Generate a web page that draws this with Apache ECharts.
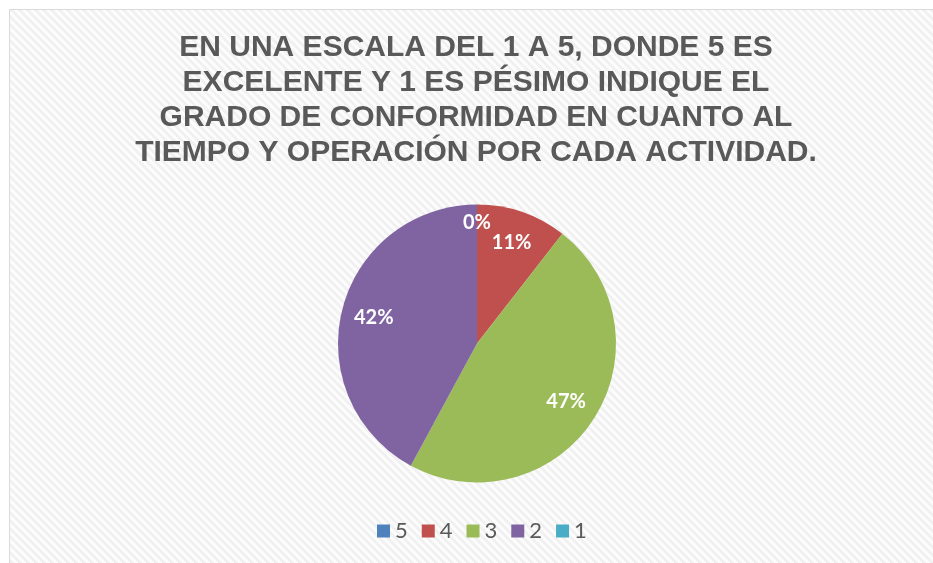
<!DOCTYPE html>
<html>
<head>
<meta charset="utf-8">
<script src="https://cdn.jsdelivr.net/npm/echarts@6/dist/echarts.min.js"></script>
<style>html,body{margin:0;padding:0;background:#fff}#c{width:933px;height:563px}</style>
</head>
<body>
<div id="c"></div>
<script>
var titleText = 'EN UNA ESCALA DEL 1 A 5, DONDE 5 ES\nEXCELENTE Y 1 ES PÉSIMO INDIQUE EL\nGRADO DE CONFORMIDAD EN CUANTO AL\nTIEMPO Y OPERACIÓN POR CADA ACTIVIDAD.';
var categories = ['5', '4', '3', '2', '1'];
var counts = [0, 2, 9, 8, 0];
var colors = ['#4f81bd', '#c0504d', '#9bbb59', '#8064a2', '#4bacc6'];

// hatched background pattern
var pc = document.createElement('canvas');
pc.width = 8; pc.height = 8;
var pctx = pc.getContext('2d');
var img = pctx.createImageData(8, 8);
for (var y = 0; y < 8; y++) {
  for (var x = 0; x < 8; x++) {
    var i = (y * 8 + x) * 4;
    var v = (((x - y) % 8) + 8) % 8 < 4 ? 241 : 252;
    img.data[i] = v; img.data[i + 1] = v; img.data[i + 2] = v; img.data[i + 3] = 255;
  }
}
pctx.putImageData(img, 0, 0);

var total = counts.reduce(function (a, b) { return a + b; }, 0);
var pieData = categories.map(function (c, k) {
  return { name: c, value: counts[k], itemStyle: { color: colors[k] } };
});
var labelData = categories.map(function (c, k) {
  var d = { name: c, value: counts[k] };
  if (counts[k] === 0) d.label = { offset: [0, -14] };
  return d;
});

var chart = echarts.init(document.getElementById('c'), null, { renderer: 'canvas' });
chart.setOption({
  backgroundColor: '#ffffff',
  animation: false,
  graphic: [{
    type: 'rect', z: -10, silent: true,
    shape: { x: 9.5, y: 9.5, width: 940, height: 570 },
    style: { fill: { image: pc, repeat: 'repeat' }, stroke: '#d9d9d9', lineWidth: 1 }
  }],
  title: {
    text: titleText,
    left: 476, top: 30, padding: 0,
    textAlign: 'center',
    textStyle: { fontFamily: 'Liberation Sans', fontWeight: 'bold', fontSize: 30, lineHeight: 35, color: '#595959' }
  },
  legend: {
    data: categories.map(function (c, k) { return { name: c, itemStyle: { color: colors[k] } }; }),
    bottom: 16, left: 372,
    itemWidth: 13, itemHeight: 13, itemGap: 14,
    icon: 'rect',
    textStyle: { fontFamily: 'Lato', fontSize: 22, color: '#595959', padding: [0, 0, 0, 0] }
  },
  series: [{
    type: 'pie', name: 'main',
    center: [477, 343.5], radius: [0, 139],
    startAngle: 90, clockwise: true,
    label: { show: false }, labelLine: { show: false },
    emphasis: { disabled: true },
    itemStyle: { borderWidth: 0 },
    data: pieData
  }, {
    type: 'pie', name: 'labels', silent: true,
    center: [477, 343.5], radius: [68, 139],
    startAngle: 90, clockwise: true,
    emphasis: { disabled: true },
    itemStyle: { color: 'rgba(0,0,0,0)', borderWidth: 0 },
    label: {
      show: true, position: 'inside',
      formatter: function (p) { return Math.round(p.value / total * 100) + '%'; },
      fontFamily: 'Lato', fontWeight: 'bold', fontSize: 20, color: '#ffffff'
    },
    labelLine: { show: false },
    data: labelData
  }]
});
</script>
</body>
</html>
